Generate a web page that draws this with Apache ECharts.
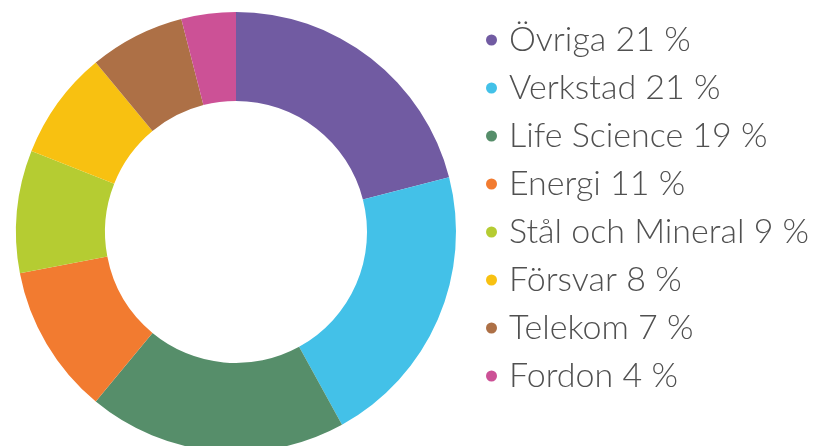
<!DOCTYPE html>
<html>
<head>
<meta charset="utf-8">
<script src="https://cdn.jsdelivr.net/npm/echarts@6/dist/echarts.min.js"></script>
<style>
  html, body { margin: 0; padding: 0; background: #fff; }
  #chart { width: 823px; height: 446px; }
</style>
</head>
<body>
<div id="chart"></div>
<script>
var categories = ['Övriga', 'Verkstad', 'Life Science', 'Energi', 'Stål och Mineral', 'Försvar', 'Telekom', 'Fordon'];
var shares = [21, 21, 19, 11, 9, 8, 7, 4];
var colors = ['#715ba2', '#43c1e8', '#568e6a', '#f27b30', '#b5cc32', '#f8c111', '#ad7046', '#cc5196'];

var chartDom = document.getElementById('chart');
var myChart = echarts.init(chartDom);

var pieData = categories.map(function (name, i) {
  return { name: name, value: shares[i], itemStyle: { color: colors[i] } };
});

var option = {
  animation: false,
  legend: {
    orient: 'vertical',
    left: 481,
    top: 18,
    icon: 'circle',
    itemWidth: 11,
    itemHeight: 11,
    itemGap: 14,
    selectedMode: false,
    data: categories,
    textStyle: {
      fontFamily: 'Lato',
      fontWeight: 300,
      fontSize: 34,
      lineHeight: 34,
      color: '#505050',
      padding: [0, 0, 0, 7]
    },
    formatter: function (name) {
      return name + ' ' + shares[categories.indexOf(name)] + ' %';
    }
  },
  series: [
    {
      type: 'pie',
      center: [236, 232],
      radius: [131, 220],
      startAngle: 90,
      clockwise: true,
      label: { show: false },
      labelLine: { show: false },
      emphasis: { disabled: true },
      itemStyle: { borderWidth: 0 },
      data: pieData
    }
  ]
};

option && myChart.setOption(option);
</script>
</body>
</html>
